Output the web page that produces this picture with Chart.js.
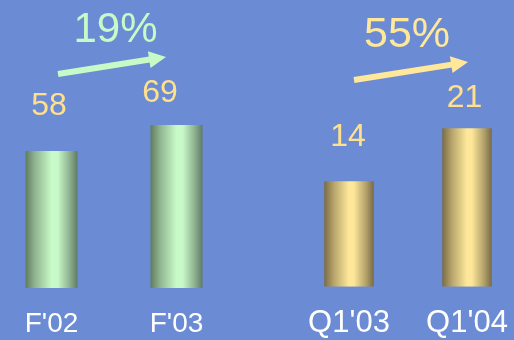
<!DOCTYPE html>
<html>
<head>
<meta charset="utf-8">
<script src="https://cdn.jsdelivr.net/npm/chart.js@4/dist/chart.umd.min.js"></script>
<style>
  html, body { margin: 0; padding: 0; }
  body { width: 514px; height: 340px; overflow: hidden; background: #6b8bd4; position: relative; }
  canvas { position: absolute; top: 0; }
  #left { left: -11px; }
  #right { left: 290px; }
</style>
</head>
<body>
<canvas id="left" width="250" height="360"></canvas>
<canvas id="right" width="236" height="360"></canvas>
<script>
// ---- data ----
const fiscalYears = ["F'02", "F'03"];
const fiscalValues = [58, 69];
const fiscalGrowth = 19;
const quarters = ["Q1'03", "Q1'04"];
const quarterValues = [14, 21];
const quarterGrowth = 55;

// ---- styling / layout (not data) ----
const VALUE_COLOR = '#ffe08c';
const GREEN = '#c8fac8';
const YELLOW = '#ffe89a';

function barGradient(stops, barPct) {
  return function (context) {
    const chart = context.chart;
    const scale = chart.scales.x;
    if (!scale || !chart.chartArea) return stops[2][1];
    const n = chart.data.labels.length;
    const xc = scale.getPixelForValue(context.dataIndex);
    const w = (scale.width / n) * barPct;
    const g = chart.ctx.createLinearGradient(xc - w / 2, 0, xc + w / 2, 0);
    stops.forEach(s => g.addColorStop(s[0], s[1]));
    return g;
  };
}

const greenStops = [[0, '#5f7d60'], [0.18, '#8fb38f'], [0.5, '#c8fac8'], [0.62, '#c8f8c8'], [0.85, '#8db08f'], [1, '#607c64']];
const goldStops = [[0, '#7a6c45'], [0.2, '#b8a66c'], [0.5, '#ffe89a'], [0.6, '#fde698'], [0.85, '#b09f68'], [1, '#786a46']];

function makePlugin(cfg) {
  return {
    id: 'annot_' + cfg.key,
    afterDatasetsDraw(chart) {
      const ctx = chart.ctx;
      const meta = chart.getDatasetMeta(0);
      const values = chart.data.datasets[0].data;
      ctx.save();
      ctx.fillStyle = VALUE_COLOR;
      ctx.font = '32px "Liberation Sans", Arial, sans-serif';
      ctx.textAlign = 'center';
      ctx.textBaseline = 'alphabetic';
      meta.data.forEach((bar, i) => {
        ctx.fillText(String(values[i]), bar.x + cfg.labelDx[i], bar.y - cfg.labelRise[i]);
      });
      const mid = (meta.data[0].x + meta.data[1].x) / 2;
      ctx.fillStyle = cfg.color;
      ctx.font = cfg.pctFont;
      ctx.fillText(cfg.growth + '%', mid + cfg.pctDx, cfg.pctY);
      const x0 = mid + cfg.arrow[0], y0 = cfg.arrow[1], x1 = mid + cfg.arrow[2], y1 = cfg.arrow[3];
      const ang = Math.atan2(y1 - y0, x1 - x0);
      const headLen = 17, headHalf = 8.5;
      const bx = x1 - headLen * Math.cos(ang), by = y1 - headLen * Math.sin(ang);
      ctx.strokeStyle = cfg.color;
      ctx.lineWidth = 6;
      ctx.lineCap = 'butt';
      ctx.beginPath();
      ctx.moveTo(x0, y0);
      ctx.lineTo(bx + 2 * Math.cos(ang), by + 2 * Math.sin(ang));
      ctx.stroke();
      ctx.beginPath();
      ctx.moveTo(x1, y1);
      ctx.lineTo(bx - headHalf * Math.sin(ang), by + headHalf * Math.cos(ang));
      ctx.lineTo(bx + headHalf * Math.sin(ang), by - headHalf * Math.cos(ang));
      ctx.closePath();
      ctx.fill();
      ctx.restore();
    }
  };
}

function makeChart(id, labels, values, yMax, barPct, stops, tickFont, tickPad, plugin) {
  return new Chart(document.getElementById(id), {
    type: 'bar',
    data: {
      labels: labels,
      datasets: [{
        data: values,
        backgroundColor: barGradient(stops, barPct),
        borderWidth: 0,
        barPercentage: barPct,
        categoryPercentage: 1
      }]
    },
    options: {
      responsive: false,
      animation: false,
      devicePixelRatio: 1,
      layout: { padding: 0 },
      plugins: { legend: { display: false }, tooltip: { enabled: false } },
      scales: {
        x: {
          grid: { display: false, drawTicks: false },
          border: { display: false },
          ticks: { color: '#ffffff', font: tickFont, padding: tickPad }
        },
        y: { display: false, min: 0, max: yMax }
      }
    },
    plugins: [plugin]
  });
}

makeChart('left', fiscalYears, fiscalValues, 122, 0.416, greenStops,
  { family: '"Liberation Sans Narrow", "Arial Narrow", "Liberation Sans", sans-serif', size: 28, lineHeight: 1.2 }, 19.2,
  makePlugin({ key: 'fy', growth: fiscalGrowth, color: GREEN, pctFont: '42px "Liberation Sans", Arial, sans-serif',
    pctDx: 1.5, pctY: 42, arrow: [-56, 74, 52, 57],
    labelDx: [-2.5, -16.5], labelRise: [36, 23] }));

makeChart('right', quarters, quarterValues, 38, 0.42, goldStops,
  { family: '"Liberation Sans", Arial, sans-serif', size: 31, lineHeight: 1.2 }, 18,
  makePlugin({ key: 'q1', growth: quarterGrowth, color: YELLOW, pctFont: '43px "Liberation Sans", Arial, sans-serif',
    pctDx: -1, pctY: 47, arrow: [-54, 80, 60, 62],
    labelDx: [-1, -2.5], labelRise: [35, 21] }));
</script>
</body>
</html>
